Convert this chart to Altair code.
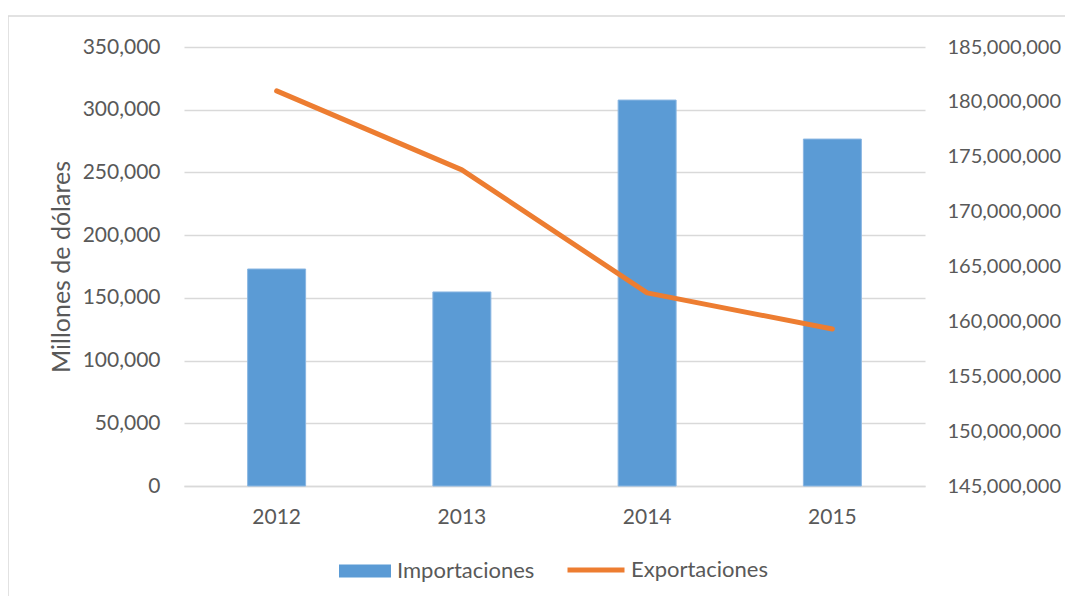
import altair as alt
import pandas as pd

years = ["2012", "2013", "2014", "2015"]
importaciones = [173000, 154700, 307700, 276600]
exportaciones = [181000000, 173800000, 162600000, 159300000]
left_ticks = [0, 50000, 100000, 150000, 200000, 250000, 300000, 350000]
right_ticks = [145000000, 150000000, 155000000, 160000000, 165000000, 170000000, 175000000, 180000000, 185000000]

FONT = "Lato"
GRAY = "#595959"
GRID = "#d9d9d9"

df_bar = pd.DataFrame({"year": years, "imp": importaciones, "serie_imp": "Importaciones"})
df_line = pd.DataFrame({"year": years, "exp": exportaciones, "serie_exp": "Exportaciones"})

x_enc = alt.X("year:N", title=None,
              scale=alt.Scale(paddingInner=0, paddingOuter=0),
              axis=alt.Axis(labelAngle=0, labelFontSize=21, labelFont=FONT, labelColor=GRAY,
                            labelPadding=20, ticks=False, domain=True, domainColor=GRID,
                            domainWidth=1.5, grid=False))

bars = alt.Chart(df_bar).mark_bar(width=alt.RelativeBandSize(0.313), stroke="#8ab6e2", strokeWidth=1).encode(
    x=x_enc,
    y=alt.Y("imp:Q", title="Millones de dólares",
            scale=alt.Scale(domain=[0, 350000], nice=False),
            axis=alt.Axis(values=left_ticks, format=",.0f", orient="left", grid=True, gridColor=GRID,
                          gridWidth=1.5, domain=False, ticks=False, labelPadding=24,
                          labelFontSize=21, labelFont=FONT, labelColor=GRAY,
                          titleFont=FONT, titleFontSize=25, titleFontWeight="normal",
                          titleColor=GRAY, titlePadding=8)),
    fill=alt.Fill("serie_imp:N", scale=alt.Scale(domain=["Importaciones"], range=["#5B9BD5"]),
                  legend=alt.Legend(title=None, orient="none", legendX=155, legendY=498,
                                    symbolType="M-1,-0.25H1V0.25H-1Z", symbolSize=2704,
                                    symbolStrokeWidth=0, labelOffset=6, padding=0,
                                    labelFont=FONT, labelFontSize=22, labelColor=GRAY)),
)

line = alt.Chart(df_line).mark_line(strokeWidth=5, strokeCap="round", strokeJoin="round").encode(
    x=alt.X("year:N"),
    y=alt.Y("exp:Q", title=None,
            scale=alt.Scale(domain=[145000000, 185000000], nice=False),
            axis=alt.Axis(values=right_ticks, format=",.0f", orient="right", grid=False,
                          domain=False, ticks=False, labelPadding=22,
                          labelFontSize=20, labelFont=FONT, labelColor=GRAY)),
    stroke=alt.Stroke("serie_exp:N", scale=alt.Scale(domain=["Exportaciones"], range=["#ED7D31"]),
                      legend=alt.Legend(title=None, orient="none", legendX=381, legendY=492,
                                        symbolType="stroke", symbolSize=3249,
                                        symbolStrokeWidth=5,
                                        labelOffset=4, padding=0,
                                        labelFont=FONT, labelFontSize=22, labelColor=GRAY)),
)

border = alt.Chart(pd.DataFrame({"a": [0]})).mark_rect(
    fillOpacity=0, stroke=GRID, strokeWidth=1.5
).encode(
    x=alt.value(-176), x2=alt.value(900), y=alt.value(-31), y2=alt.value(600)
)

chart = alt.layer(border, bars, line).resolve_scale(
    y="independent", fill="independent", stroke="independent"
).properties(
    width=741, height=439,
    autosize=alt.AutoSizeParams(type="none"),
    padding={"left": 176, "top": 39, "right": 140, "bottom": 110},
).configure_view(stroke=None)

chart.save("out.html", embed_options={"renderer": "svg", "actions": False})
